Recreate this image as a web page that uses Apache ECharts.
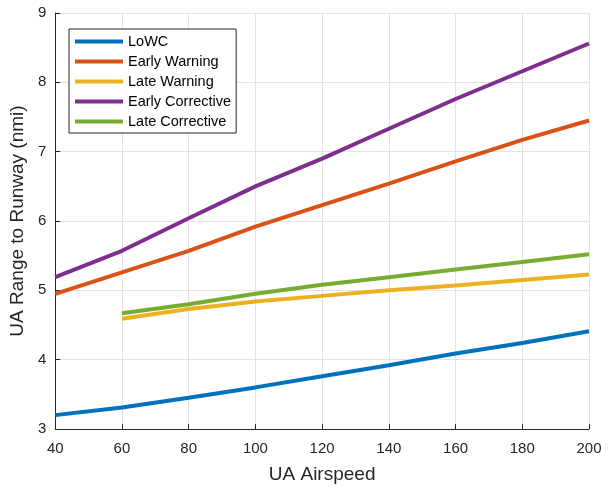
<!DOCTYPE html>
<html>
<head>
<meta charset="utf-8">
<script src="https://cdn.jsdelivr.net/npm/echarts@6/dist/echarts.min.js"></script>
<style>html,body{margin:0;padding:0;background:#fff}#c{width:610px;height:489px}</style>
</head>
<body>
<div id="c"></div>
<script>
var airspeed = [40, 60, 80, 100, 120, 140, 160, 180, 200];
var lowc = [3.20, 3.31, 3.45, 3.60, 3.76, 3.92, 4.09, 4.24, 4.41];
var earlyWarning = [4.95, 5.26, 5.57, 5.92, 6.23, 6.54, 6.86, 7.17, 7.45];
var lateWarning = [null, 4.59, 4.73, 4.84, 4.92, 5.00, 5.07, 5.15, 5.23];
var earlyCorrective = [5.19, 5.57, 6.04, 6.50, 6.90, 7.33, 7.76, 8.16, 8.56];
var lateCorrective = [null, 4.67, 4.80, 4.95, 5.08, 5.19, 5.30, 5.41, 5.52];
var names = ['LoWC', 'Early Warning', 'Late Warning', 'Early Corrective', 'Late Corrective'];
var colors = ['#0072BD', '#D95319', '#EDB120', '#7E2F8E', '#77AC30'];
var values = [lowc, earlyWarning, lateWarning, earlyCorrective, lateCorrective];

function pairs(v) {
  var out = [];
  for (var i = 0; i < airspeed.length; i++) if (v[i] != null) out.push([airspeed[i], v[i]]);
  return out;
}
var font = 'Liberation Sans, Arial, Helvetica, sans-serif';
var chart = echarts.init(document.getElementById('c'));
chart.setOption({
  animation: false,
  grid: {left: 54, right: 21, top: 13, bottom: 56},
  legend: {
    orient: 'vertical', left: 69, top: 29,
    data: names,
    icon: 'rect', itemWidth: 48, itemHeight: 4, itemGap: 5,
    padding: [5, 5, 4, 6],
    backgroundColor: '#fff', borderColor: '#262626', borderWidth: 1,
    textStyle: {fontFamily: font, fontSize: 14.5, color: '#000', lineHeight: 15}
  },
  xAxis: {
    type: 'value', min: 40, max: 200, interval: 20,
    name: 'UA Airspeed', nameLocation: 'middle', nameGap: 36,
    nameTextStyle: {fontFamily: font, fontSize: 19, color: '#262626'},
    axisLine: {lineStyle: {color: '#262626', width: 1}},
    axisTick: {inside: true, length: 5, lineStyle: {color: '#262626'}},
    axisLabel: {fontFamily: font, fontSize: 15, color: '#262626', margin: 12},
    splitLine: {show: true, lineStyle: {color: '#e3e3e3', width: 1}}
  },
  yAxis: {
    type: 'value', min: 3, max: 9, interval: 1,
    name: 'UA Range to Runway (nmi)', nameLocation: 'middle', nameGap: 24,
    nameTextStyle: {fontFamily: font, fontSize: 19, color: '#262626'},
    axisLine: {show: true, lineStyle: {color: '#262626', width: 1}},
    axisTick: {show: true, inside: true, length: 5, lineStyle: {color: '#262626'}},
    axisLabel: {fontFamily: font, fontSize: 15, color: '#262626', margin: 9},
    splitLine: {show: true, lineStyle: {color: '#e3e3e3', width: 1}}
  },
  series: names.map(function (n, i) {
    return {
      name: n, type: 'line', data: pairs(values[i]),
      showSymbol: false, symbol: 'none', smooth: false,
      lineStyle: {color: colors[i], width: 4},
      itemStyle: {color: colors[i]}
    };
  })
});
</script>
</body>
</html>
